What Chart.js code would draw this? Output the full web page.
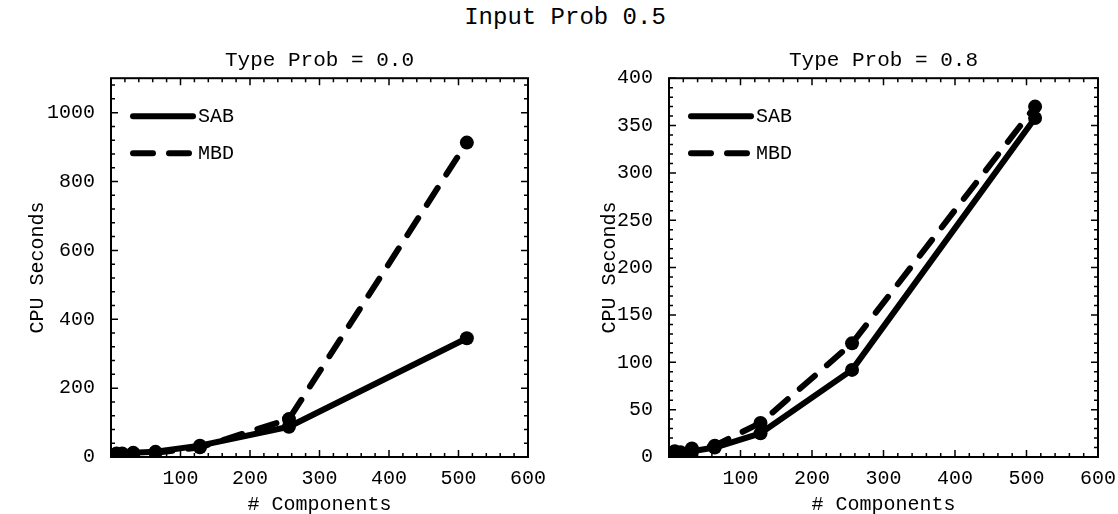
<!DOCTYPE html>
<html lang="en">
<head>
    <meta charset="UTF-8">
    <title>Input Prob 0.5</title>
    <script src="https://cdn.jsdelivr.net/npm/chart.js"></script>
    <style>
        html, body { margin: 0; padding: 0; background: #fff; overflow: hidden; }
        #page { position: relative; width: 1118px; height: 514px; }
        #mainTitle {
            position: absolute; left: 0; top: 4px; width: 1130px;
            text-align: center; font: 24px "Liberation Mono", monospace; line-height: 28px; color: #000;
        }
        canvas { position: absolute; top: 30px; }
        #left { left: 0; }
        #right { left: 559px; }
    </style>
</head>
<body>
<div id="page">
    <div id="mainTitle">Input Prob 0.5</div>
    <canvas id="left" width="559" height="500"></canvas>
    <canvas id="right" width="559" height="500"></canvas>
</div>
<script>
    // values
    const components = [8, 16, 32, 64, 128, 256, 512];
    const seriesNames = ['SAB', 'MBD'];

    const sabType00 = [10, 10, 12, 15, 33, 88, 345];
    const mbdType00 = [8, 8, 10, 12, 28, 110, 913];

    const sabType08 = [4, 4, 6, 10, 25, 92, 358];
    const mbdType08 = [6, 5, 9, 12, 36, 120, 370];

    const xTicks = [100, 200, 300, 400, 500, 600];

    const FONT = '"Liberation Mono", "DejaVu Sans Mono", monospace';

    // frame around the plot with inward major/minor ticks on all four sides
    const frameTicks = {
        id: 'frameTicks',
        afterDraw(chart, args, opts) {
            const { ctx, chartArea: a, scales: { x, y } } = chart;
            ctx.save();
            ctx.strokeStyle = '#000';
            ctx.setLineDash([]);
            ctx.lineWidth = 1.5;
            for (let v = x.min; v <= x.max + 1e-9; v += opts.xMinor) {
                const px = x.getPixelForValue(v);
                const len = Math.abs(v % opts.xMajor) < 1e-6 ? 7 : 4;
                ctx.beginPath();
                ctx.moveTo(px, a.bottom); ctx.lineTo(px, a.bottom - len);
                ctx.moveTo(px, a.top); ctx.lineTo(px, a.top + len);
                ctx.stroke();
            }
            for (let v = y.min; v <= y.max + 1e-9; v += opts.yMinor) {
                const py = y.getPixelForValue(v);
                const len = Math.abs(v % opts.yMajor) < 1e-6 ? 7 : 4;
                ctx.beginPath();
                ctx.moveTo(a.left, py); ctx.lineTo(a.left + len, py);
                ctx.moveTo(a.right, py); ctx.lineTo(a.right - len, py);
                ctx.stroke();
            }
            ctx.lineWidth = 2;
            ctx.strokeRect(a.left, a.top, a.right - a.left, a.bottom - a.top);
            ctx.restore();
        }
    };

    // legend drawn inside the plot, upper left
    const insideLegend = {
        id: 'insideLegend',
        afterDatasetsDraw(chart) {
            const { ctx, chartArea: a } = chart;
            ctx.save();
            chart.data.datasets.forEach((ds, i) => {
                const yy = a.top + 38 + i * 37;
                const x0 = a.left + 22, x1 = a.left + 82;
                ctx.strokeStyle = ds.borderColor;
                ctx.lineWidth = ds.borderWidth;
                ctx.lineCap = 'round';
                ctx.setLineDash(ds.borderDash || []);
                ctx.beginPath();
                ctx.moveTo(x0, yy); ctx.lineTo(x1, yy);
                ctx.stroke();
                ctx.setLineDash([]);
                ctx.fillStyle = '#000';
                ctx.font = '20px ' + FONT;
                ctx.textBaseline = 'middle';
                ctx.fillText(ds.label, x1 + 5, yy + 1);
            });
            ctx.restore();
        }
    };

    function makeDataset(label, values, dashed) {
        return {
            label: label,
            data: components.map((c, i) => ({ x: c, y: values[i] })),
            borderColor: '#000',
            backgroundColor: '#000',
            borderWidth: 6,
            borderDash: dashed ? [20, 16] : [],
            borderCapStyle: 'round',
            borderJoinStyle: 'round',
            pointRadius: 7,
            pointBorderWidth: 0,
            tension: 0,
            fill: false
        };
    }

    function makeChart(id, title, sab, mbd, yMax, yStep, yMinor, yAxisWidth, yTitlePad, padRight) {
        return new Chart(document.getElementById(id), {
            type: 'line',
            data: {
                datasets: [
                    makeDataset(seriesNames[0], sab, false),
                    makeDataset(seriesNames[1], mbd, true)
                ]
            },
            plugins: [frameTicks, insideLegend],
            options: {
                responsive: false,
                animation: false,
                layout: { padding: { left: 0, right: padRight, top: 0, bottom: 0 } },
                plugins: {
                    legend: { display: false },
                    tooltip: { enabled: false },
                    title: {
                        display: true,
                        text: title,
                        fullSize: false,
                        color: '#000',
                        font: { family: FONT, size: 21, weight: 'normal', lineHeight: 1.2 },
                        padding: { top: 18, bottom: 5 }
                    },
                    frameTicks: { xMajor: 100, xMinor: 20, yMajor: yStep, yMinor: yMinor }
                },
                scales: {
                    x: {
                        type: 'linear',
                        min: 0,
                        max: 600,
                        afterFit: s => { s.height = 73; },
                        afterBuildTicks: s => { s.ticks = xTicks.map(v => ({ value: v })); },
                        grid: { display: false },
                        border: { display: false },
                        ticks: {
                            color: '#000',
                            padding: 2,
                            maxRotation: 0,
                            callback: v => String(v),
                            font: { family: FONT, size: 20 }
                        },
                        title: {
                            display: true,
                            text: '# Components',
                            color: '#000',
                            font: { family: FONT, size: 20, lineHeight: 1.2 },
                            padding: { top: 0, bottom: 13 }
                        }
                    },
                    y: {
                        type: 'linear',
                        min: 0,
                        max: yMax,
                        afterFit: s => { s.width = yAxisWidth; },
                        grid: { display: false },
                        border: { display: false },
                        ticks: {
                            stepSize: yStep,
                            includeBounds: false,
                            color: '#000',
                            padding: 8,
                            callback: v => String(v),
                            font: { family: FONT, size: 20 }
                        },
                        title: {
                            display: true,
                            text: 'CPU Seconds',
                            color: '#000',
                            font: { family: FONT, size: 20, lineHeight: 1.2 },
                            padding: { top: yTitlePad, bottom: 0 }
                        }
                    }
                }
            }
        });
    }

    makeChart('left', 'Type Prob = 0.0', sabType00, mbdType00, 1100, 200, 40, 111, 26, 31);
    makeChart('right', 'Type Prob = 0.8', sabType08, mbdType08, 400, 50, 10, 110, 39, 20);
</script>
</body>
</html>
